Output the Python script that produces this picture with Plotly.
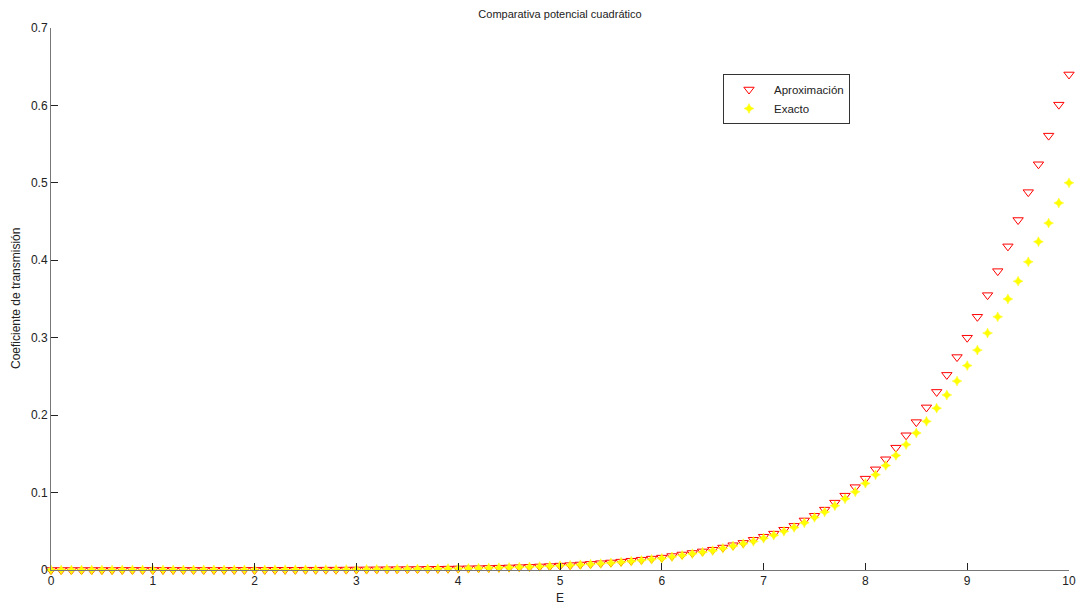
import plotly.graph_objects as go

E = [round(i * 0.1, 1) for i in range(101)]

aproximacion = [
    0.0000, 0.0000, 0.0000, 0.0000, 0.0000, 0.0000, 0.0000, 0.0001, 0.0001, 0.0001,
    0.0001, 0.0001, 0.0001, 0.0001, 0.0001, 0.0001, 0.0001, 0.0001, 0.0002, 0.0002,
    0.0002, 0.0002, 0.0003, 0.0003, 0.0003, 0.0004, 0.0004, 0.0005, 0.0005, 0.0006,
    0.0007, 0.0008, 0.0009, 0.0010, 0.0011, 0.0012, 0.0013, 0.0015, 0.0016, 0.0018,
    0.0020, 0.0022, 0.0024, 0.0027, 0.0030, 0.0033, 0.0037, 0.0041, 0.0046, 0.0051,
    0.0057, 0.0063, 0.0071, 0.0079, 0.0088, 0.0097, 0.0108, 0.0120, 0.0133, 0.0147,
    0.0160, 0.0180, 0.0200, 0.0220, 0.0240, 0.0262, 0.0290, 0.0320, 0.0350, 0.0390,
    0.0430, 0.0470, 0.0520, 0.0570, 0.0640, 0.0700, 0.0780, 0.0870, 0.0960, 0.1070,
    0.1180, 0.1300, 0.1430, 0.1580, 0.1740, 0.1910, 0.2100, 0.2300, 0.2520, 0.2750,
    0.3000, 0.3270, 0.3550, 0.3860, 0.4180, 0.4520, 0.4880, 0.5240, 0.5610, 0.6010,
    0.6400,
]

exacto = [
    0.0000, 0.0000, 0.0000, 0.0000, 0.0000, 0.0000, 0.0000, 0.0001, 0.0001, 0.0001,
    0.0001, 0.0001, 0.0001, 0.0001, 0.0001, 0.0001, 0.0001, 0.0001, 0.0002, 0.0002,
    0.0002, 0.0002, 0.0003, 0.0003, 0.0003, 0.0004, 0.0004, 0.0005, 0.0005, 0.0006,
    0.0007, 0.0008, 0.0009, 0.0010, 0.0011, 0.0012, 0.0013, 0.0014, 0.0016, 0.0018,
    0.0019, 0.0021, 0.0024, 0.0026, 0.0029, 0.0032, 0.0036, 0.0040, 0.0044, 0.0049,
    0.0055, 0.0061, 0.0068, 0.0075, 0.0083, 0.0092, 0.0102, 0.0113, 0.0125, 0.0138,
    0.0150, 0.0170, 0.0190, 0.0210, 0.0230, 0.0250, 0.0280, 0.0310, 0.0340, 0.0370,
    0.0410, 0.0450, 0.0500, 0.0550, 0.0610, 0.0680, 0.0750, 0.0830, 0.0920, 0.1010,
    0.1120, 0.1230, 0.1350, 0.1480, 0.1620, 0.1770, 0.1920, 0.2090, 0.2260, 0.2440,
    0.2640, 0.2840, 0.3060, 0.3270, 0.3500, 0.3730, 0.3980, 0.4240, 0.4480, 0.4740,
    0.5000,
]

x_ticks = [0, 1, 2, 3, 4, 5, 6, 7, 8, 9, 10]
y_ticks = [0, 0.1, 0.2, 0.3, 0.4, 0.5, 0.6, 0.7]
y_tick_labels = ["0", "0.1", "0.2", "0.3", "0.4", "0.5", "0.6", "0.7"]

FONT = "Liberation Sans, Arial, sans-serif"
W, H = 1078, 606
# plot area in page pixels
PL, PR, PT, PB = 51, 1069, 28, 570
ML, MR, MT, MB = PL, W - PR, PT, H - PB
PW, PH = PR - PL, PB - PT

fig = go.Figure()
fig.add_trace(go.Scatter(
    x=E, y=aproximacion, mode="markers", name="Aproximación",
    marker=dict(symbol="triangle-down-open", size=9, color="#ff0000",
                line=dict(width=1, color="#ff0000")),
    cliponaxis=False,
))
fig.add_trace(go.Scatter(
    x=E, y=exacto, mode="markers", name="Exacto",
    marker=dict(symbol="star-diamond", size=7, color="#ffff00",
                line=dict(width=0.5, color="#ffff00")),
    cliponaxis=False,
))

fig.update_layout(
    width=W, height=H,
    margin=dict(l=ML, r=MR, t=MT, b=MB, autoexpand=False),
    paper_bgcolor="white", plot_bgcolor="white",
    font=dict(family=FONT, size=12, color="#222"),
    title=dict(text="Comparativa potencial cuadrático", x=0.5, xanchor="center",
               xref="paper", yref="container", y=1 - 14 / H, yanchor="middle",
               font=dict(size=11, family=FONT, color="#222")),
    showlegend=True,
    legend=dict(x=(723 - PL) / PW, y=(PB - 74) / PH,
                xanchor="left", yanchor="top",
                bgcolor="white", bordercolor="#333", borderwidth=1,
                font=dict(size=11.5, family=FONT, color="#222"),
                itemwidth=40, tracegroupgap=0),
    xaxis=dict(range=[0, 10], tickvals=x_ticks, ticks="inside", ticklen=7,
               tickcolor="#222", showline=True, linecolor="#777", linewidth=1,
               showgrid=False, zeroline=False, mirror=False, automargin=False,
               tickfont=dict(size=12, family=FONT, color="#222")),
    yaxis=dict(range=[0, 0.7], tickvals=y_ticks, ticktext=y_tick_labels,
               ticks="inside", ticklen=7, tickcolor="#222",
               showline=True, linecolor="#777", linewidth=1,
               showgrid=False, zeroline=False, mirror=False, automargin=False,
               tickfont=dict(size=12, family=FONT, color="#222")),
    annotations=[
        dict(text="E", xref="paper", yref="paper", x=0.5, y=-(598 - PB) / PH,
             xanchor="center", yanchor="middle", showarrow=False,
             font=dict(size=12, family=FONT, color="#222")),
        dict(text="Coeficiente de transmisión", xref="paper", yref="paper",
             x=-(PL - 16) / PW, y=0.5, xanchor="center", yanchor="middle",
             textangle=-90, showarrow=False,
             font=dict(size=12, family=FONT, color="#222")),
    ],
)

fig.write_html(
    "out.html",
    config={"displayModeBar": False},
    post_script="document.body.style.margin='0';document.body.style.overflow='hidden';",
)
